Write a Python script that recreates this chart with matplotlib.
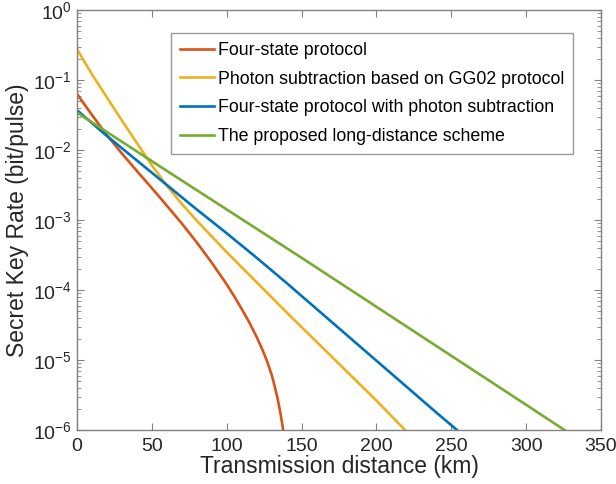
import matplotlib.pyplot as plt
import numpy as np

plt.rcParams['font.family'] = ['Liberation Sans', 'DejaVu Sans']

# log10 of key rate
red_x = [0, 10, 20, 30, 40, 50, 60, 70, 80, 90, 100, 105, 110, 115, 120, 124, 127,
         130, 132, 134, 136, 137.5, 138.5]
red_y = [-1.2, -1.5, -1.79, -2.05, -2.3, -2.545, -2.795, -3.05, -3.32, -3.61, -3.92,
         -4.09, -4.27, -4.46, -4.67, -4.86, -5.02, -5.21, -5.37, -5.55, -5.77, -5.97, -6.15]
yel_x = [0, 10, 20, 30, 40, 50, 60, 70, 80, 100, 120, 140, 160, 180, 200, 220]
yel_y = [-0.56, -0.92, -1.25, -1.58, -1.9, -2.22, -2.51, -2.77, -3.01, -3.46, -3.89,
         -4.32, -4.74, -5.16, -5.58, -6.02]
blu_x = [1, 20, 40, 60, 80, 100, 120, 140, 160, 180, 200, 220, 240, 256]
blu_y = [-1.45, -1.8, -2.15, -2.5, -2.85, -3.19, -3.54, -3.9, -4.27, -4.64, -5.01,
         -5.38, -5.75, -6.04]
grn_x = [1, 50, 100, 150, 200, 250, 300, 327]
grn_y = [-1.48, -2.16, -2.85, -3.54, -4.24, -4.94, -5.64, -6.02]

labels = ['Four-state protocol',
          'Photon subtraction based on GG02 protocol',
          'Four-state protocol with photon subtraction',
          'The proposed long-distance scheme']
colors = ['#D95319', '#EDB120', '#0072BD', '#77AC30']

fig = plt.figure(figsize=(6.16, 4.84), dpi=100)
ax = fig.add_axes([0.125, 0.1116, 0.8506, 0.8678])

series = [(red_x, red_y), (yel_x, yel_y), (blu_x, blu_y), (grn_x, grn_y)]
for (xs, ys), lab, c in zip(series, labels, colors):
    ax.plot(xs, 10.0 ** np.array(ys), color=c, lw=1.9, label=lab)

ax.set_yscale('log')
ax.set_xlim(0, 350)
ax.set_ylim(1e-6, 1)
ax.set_xticks(range(0, 351, 50))

gray = '#808080'
for s in ax.spines.values():
    s.set_color(gray)
    s.set_linewidth(1.0)
ax.tick_params(which='both', direction='in', top=True, right=True, color=gray,
               labelsize=14, labelcolor='#262626')
ax.tick_params(which='major', length=5)
ax.tick_params(which='minor', length=3)
ax.tick_params(axis='x', pad=6)

ax.set_xlabel('Transmission distance (km)', fontsize=16.5, color='#262626', labelpad=0)
ax.set_ylabel('Secret Key Rate (bit/pulse)', fontsize=16.5, color='#262626', labelpad=3)

leg = ax.legend(loc='upper left', bbox_to_anchor=(0.179, 0.945), fontsize=12.8,
                frameon=True, fancybox=False, handlelength=1.95, handletextpad=0.2,
                labelspacing=0.66, borderpad=0.5, borderaxespad=0)
leg.get_frame().set_edgecolor(gray)
leg.get_frame().set_linewidth(1.0)

fig.savefig('out.png', dpi=100)
